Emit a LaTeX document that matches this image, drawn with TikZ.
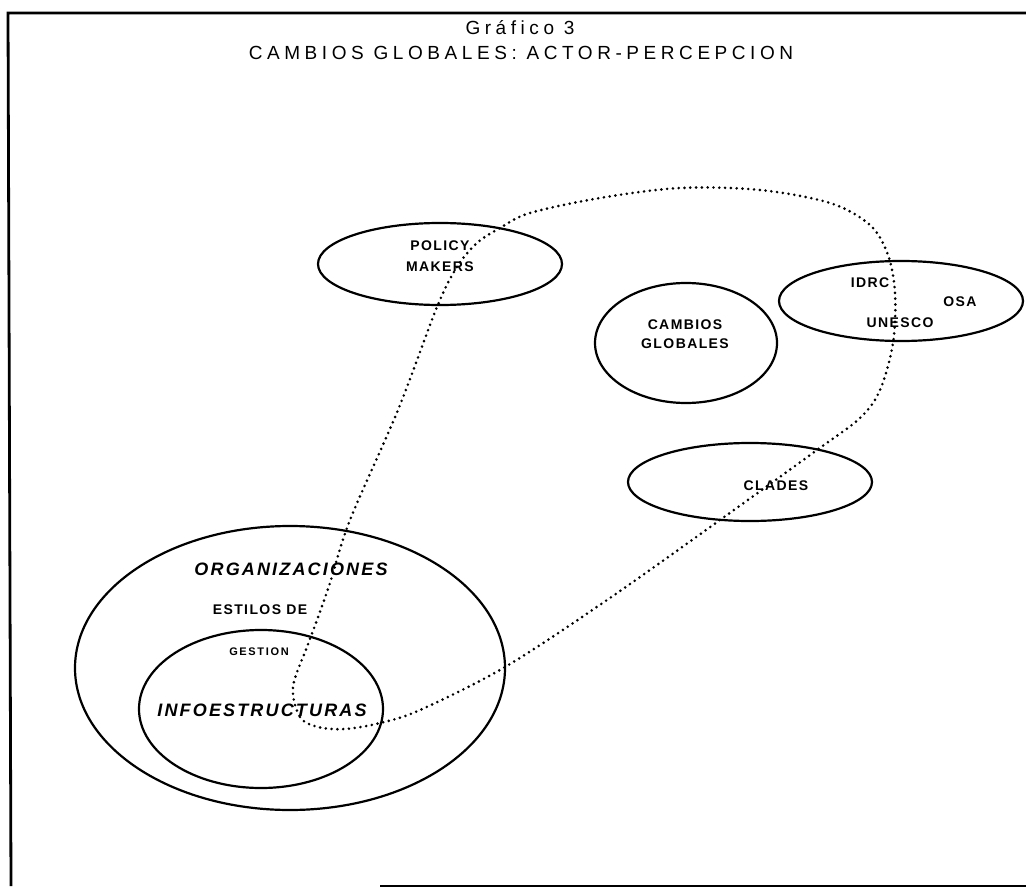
\documentclass[tikz,border=0pt]{standalone}
\usepackage{fontspec}
\setmainfont{Liberation Sans}
\newfontfamily\labfont[LetterSpace=10]{Liberation Sans}
\newfontfamily\bigfont[LetterSpace=12]{Liberation Sans}
\newfontfamily\smallfont[LetterSpace=15]{Liberation Sans}
\newfontfamily\titfont[LetterSpace=24]{Liberation Sans}
\usetikzlibrary{shapes.geometric}
\begin{document}
\begin{tikzpicture}[x=1pt,y=-1pt,
  ell/.style={draw, ellipse, line width=2.2pt, inner sep=0pt},
  lab/.style={inner sep=0pt, font=\labfont\bfseries\fontsize{14}{16}\selectfont},
  smalllab/.style={inner sep=0pt, font=\smallfont\bfseries\fontsize{11}{13}\selectfont},
  big/.style={inner sep=0pt, font=\bigfont\bfseries\itshape\fontsize{18}{20}\selectfont},
  tit/.style={inner sep=0pt, font=\titfont\fontsize{19}{21}\selectfont},
  dotline/.style={line width=2.9pt, dash pattern=on 0pt off 5.8pt, line cap=round}]
\fill[white] (0,0) rectangle (1026,888);
\useasboundingbox (0,0) rectangle (1026,888);

% frame
\draw[line width=2.8pt] (1026,13) -- (8,13) -- (11,886);
\draw[line width=2.2pt] (380,886) -- (1026,886);

% titles
\node[tit] (t1) at (520,28) {Gráfico 3};
\node[tit] (t2) at (521,53) {CAMBIOS GLOBALES: ACTOR-PERCEPCION};

% ellipses
\node[ell, minimum width=244pt, minimum height=82pt] (pol) at (440,264) {};
\node[ell, minimum width=182pt, minimum height=120pt] (cam) at (686,343) {};
\node[ell, minimum width=244pt, minimum height=80pt] (idrc) at (901,301) {};
\node[ell, minimum width=244pt, minimum height=78pt] (cla) at (750,482) {};
\node[ell, minimum width=430pt, minimum height=284pt] (org) at (290,668) {};
\node[ell, minimum width=244pt, minimum height=158pt] (inf) at (261,709) {};

% labels
\node[lab] (lpol1) at (440,246) {POLICY};
\node[lab] (lpol2) at (440,267) {MAKERS};
\node[lab] (lcam1) at (685,325) {CAMBIOS};
\node[lab] (lcam2) at (685,344) {GLOBALES};
\node[lab] (lidrc) at (870,283) {IDRC};
\node[lab] (losa) at (960,302) {OSA};
\node[lab] (lune) at (900,323) {UNESCO};
\node[lab] (lcla) at (776,486) {CLADES};
\node[big] (lorg) at (291,569) {ORGANIZACIONES};
\node[lab] (lest) at (260,610) {ESTILOS DE};
\node[smalllab] (lges) at (259,652) {GESTION};
\node[big] (linf) at (262,710) {INFOESTRUCTURAS};

% dotted perception loop
\draw[dotline] plot[smooth cycle, tension=0.55] coordinates {
 (293,687) (300,717) (318,727) (345,729) (380,723) (420,710)
 (505,667) (607,600) (720,520) (817,450) (860,418) (880,390)
 (893,343) (895,293) (888,255) (870,225) (830,203) (760,190)
 (680,188) (600,198) (530,213) (500,228) (477,243) (457,267)
 (437,307) (398,410) (350,520) (330,583) (317,620) (307,647)};
\end{tikzpicture}
\end{document}
